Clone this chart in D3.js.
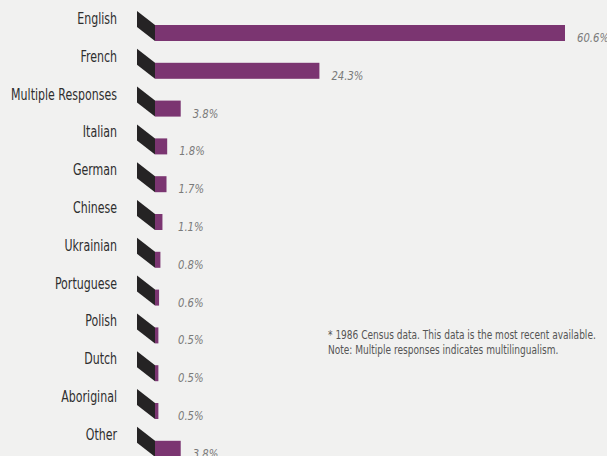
<!DOCTYPE html>
<html><head><meta charset="utf-8">
<script src="https://cdn.jsdelivr.net/npm/d3@7"></script>
<style>
html,body{margin:0;padding:0;background:#f1f1f0;}
svg{display:block;}
text{font-family:'DejaVu Sans Condensed','DejaVu Sans',sans-serif;}
</style></head>
<body>
<svg id="chart" width="607" height="456"></svg>
<script>
const categories = ["English","French","Multiple Responses","Italian","German","Chinese","Ukrainian","Portuguese","Polish","Dutch","Aboriginal","Other"];
const values = [60.6,24.3,3.8,1.8,1.7,1.1,0.8,0.6,0.5,0.5,0.5,3.8];
const valueLabels = ["60.6%","24.3%","3.8%","1.8%","1.7%","1.1%","0.8%","0.6%","0.5%","0.5%","0.5%","3.8%"];
const footnotes = ["* 1986 Census data. This data is the most recent available.","Note: Multiple responses indicates multilingualism."];

const svg = d3.select("#chart");
const data = categories.map((c,i)=>({c, v:values[i], lab:valueLabels[i]}));

const y = d3.scaleBand().domain(categories).range([11, 11 + 12*37.8]).padding(0);
const x = d3.scaleLinear().domain([0, 60.6]).range([155, 565]);

const barOff = 14, barH = 16, depth = 18;

const rows = svg.append("g").selectAll("g.row").data(data).join("g").attr("class","row");

rows.append("path")
  .attr("d", d => {
    const t = y(d.c), x0 = x(0);
    return `M${x0-depth},${t} L${x0},${t+barOff} L${x0},${t+barOff+barH} L${x0-depth},${t+barH} Z`;
  })
  .attr("fill","#252324");

rows.append("rect")
  .attr("x", x(0))
  .attr("y", d => y(d.c) + barOff)
  .attr("width", d => x(d.v) - x(0))
  .attr("height", barH)
  .attr("fill","#7b3571");

const catText = rows.append("text")
  .attr("text-anchor","end")
  .attr("font-size", 15)
  .attr("fill","#2e2e2e")
  .text(d => d.c);

const valText = rows.append("text")
  .attr("font-size", 13)
  .attr("font-style","italic")
  .attr("fill","#7a7a7a")
  .text(d => d.lab);

const notes = svg.selectAll("text.note").data(footnotes).join("text")
  .attr("class","note")
  .attr("font-size", 12.5)
  .attr("fill","#555")
  .text(d => d);

// condense text horizontally to mimic a condensed typeface
function widthOf(sel, pred){ let w=0; sel.each(function(d){ if(pred(d)) w=this.getComputedTextLength(); }); return w; }
const kCat = 106 / widthOf(catText, d => d.c === "Multiple Responses");
const kVal = 32 / widthOf(valText, d => d.lab === "24.3%");
const kNote = 268 / widthOf(notes, (d) => d === footnotes[0]);

catText.attr("transform", d => `translate(117,${y(d.c)+13}) scale(${kCat},1)`);
valText.attr("transform", d => `translate(${Math.max(x(d.v) + 12, 178)},${y(d.c)+barOff+barH+1}) scale(${kVal},1)`);
notes.attr("transform", (d,i) => `translate(328,${339 + i*15}) scale(${kNote},1)`);
</script>
</body></html>
